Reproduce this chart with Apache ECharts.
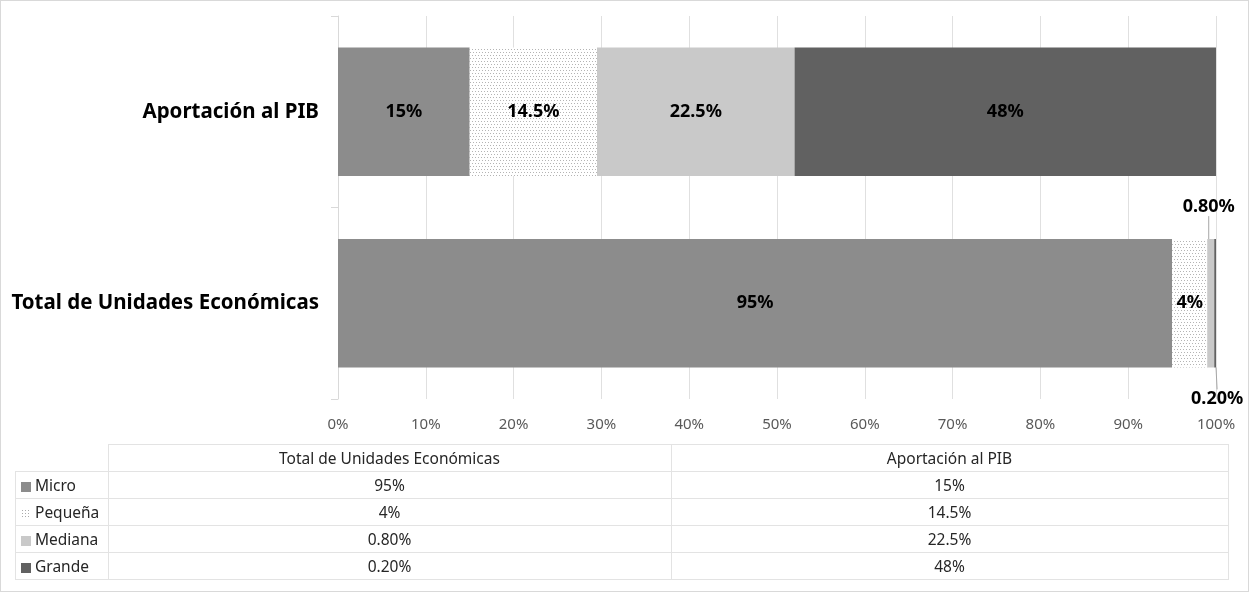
<!DOCTYPE html>
<html>
<head>
<meta charset="utf-8">
<script src="https://cdn.jsdelivr.net/npm/echarts@6/dist/echarts.min.js"></script>
<style>
  html, body { margin: 0; padding: 0; background: #fff; }
  #wrap { position: relative; width: 1249px; height: 592px; box-sizing: border-box; border: 1px solid #d9d9d9; overflow: hidden; }
  #chart { position: absolute; left: 0; top: 0; width: 1249px; height: 592px; }
  #tbl { position: absolute; left: 14px; top: 443px; border-collapse: collapse; font-family: "Noto Sans", sans-serif; font-size: 15.5px; color: #262626; }
  #tbl td { border: 1px solid #e3e3e3; height: 26px; padding: 0; text-align: center; line-height: 17px; }
  #tbl td.key { text-align: left; padding-left: 5px; white-space: nowrap; }
  #tbl td.blank { border-top: none; border-left: none; }
  .sw { display: inline-block; width: 10px; height: 10px; margin-right: 4px; vertical-align: -1px; }
</style>
</head>
<body>
<div id="wrap">
  <div id="chart"></div>
  <table id="tbl"></table>
</div>
<script>
// ---- data ----
const categories = ['Total de Unidades Económicas', 'Aportación al PIB'];
const seriesNames = ['Micro', 'Pequeña', 'Mediana', 'Grande'];
const micro   = [95, 15];
const pequena = [4, 14.5];
const mediana = [0.8, 22.5];
const grande  = [0.2, 48];
const microText   = ['95%', '15%'];
const pequenaText = ['4%', '14.5%'];
const medianaText = ['0.80%', '22.5%'];
const grandeText  = ['0.20%', '48%'];

const values = [micro, pequena, mediana, grande];
const texts = [microText, pequenaText, medianaText, grandeText];

// dotted pattern for "Pequeña"
function makeDots() {
  const c = document.createElement('canvas');
  c.width = 6; c.height = 6;
  const g = c.getContext('2d');
  g.fillStyle = '#ffffff'; g.fillRect(0, 0, 6, 6);
  g.fillStyle = '#b4b4b4';
  g.fillRect(0, 0, 1, 1);
  g.fillRect(3, 0, 1, 1);
  g.fillRect(1, 3, 1, 1);
  g.fillRect(4, 3, 1, 1);
  return c;
}
const dots = makeDots();
const colors = ['#8c8c8c', { image: dots, repeat: 'repeat' }, '#c9c9c9', '#616161'];
const swatchCss = ['background:#8c8c8c', 'background-image:radial-gradient(#aaa 0.6px, transparent 0.8px);background-size:3px 3px', 'background:#c9c9c9', 'background:#616161'];

const chart = echarts.init(document.getElementById('chart'), null, { renderer: 'canvas' });

const series = seriesNames.map((name, si) => {
  const s = {
    name: name,
    type: 'bar',
    stack: 'total',
    barWidth: '67%',
    itemStyle: { color: colors[si] },
    label: {
      show: true,
      position: 'inside',
      fontFamily: 'Noto Sans',
      fontWeight: 'bold',
      fontSize: 18,
      color: '#000',
      formatter: p => texts[si][p.dataIndex]
    },
    data: values[si].slice()
  };
  if (si === 2) {
    s.labelLine = { show: true, lineStyle: { color: '#a6a6a6', width: 1 } };
    s.labelLayout = p => p.dataIndex === 0 ? { x: p.rect.x + p.rect.width / 2 - 2, y: p.rect.y - 32, align: 'center', verticalAlign: 'middle' } : null;
  }
  if (si === 3) {
    s.labelLine = { show: true, lineStyle: { color: '#a6a6a6', width: 1 } };
    s.labelLayout = p => p.dataIndex === 0 ? { x: p.rect.x + p.rect.width / 2 + 2, y: p.rect.y + p.rect.height + 31, align: 'center', verticalAlign: 'middle' } : null;
  }
  return s;
});

chart.setOption({
  animation: false,
  grid: { left: 337, right: 34, top: 15, bottom: 194, containLabel: false },
  xAxis: {
    type: 'value', min: 0, max: 100, interval: 10,
    axisLine: { show: false },
    axisTick: { show: false },
    splitLine: { show: true, lineStyle: { color: '#e0e0e0', width: 1 } },
    axisLabel: { formatter: '{value}%', color: '#595959', fontFamily: 'Noto Sans', fontSize: 15, margin: 18 }
  },
  yAxis: {
    type: 'category', data: categories,
    axisLine: { show: true, lineStyle: { color: '#d9d9d9' } },
    axisTick: { show: true, length: 7, lineStyle: { color: '#d9d9d9' } },
    axisLabel: { color: '#000', fontFamily: 'Noto Sans', fontWeight: 'bold', fontSize: 20.5, margin: 19 }
  },
  series: series
});

// data table built from the same arrays
const tbl = document.getElementById('tbl');
let html = '<tr><td class="blank" style="width:92px"></td>' +
  categories.map((c, i) => '<td style="width:' + (i === 0 ? 562 : 556) + 'px">' + c + '</td>').join('') + '</tr>';
seriesNames.forEach((n, si) => {
  html += '<tr><td class="key"><span class="sw" style="' + swatchCss[si] + '"></span>' + n + '</td>' +
    texts[si].map(t => '<td>' + t + '</td>').join('') + '</tr>';
});
tbl.innerHTML = html;
</script>
</body>
</html>
